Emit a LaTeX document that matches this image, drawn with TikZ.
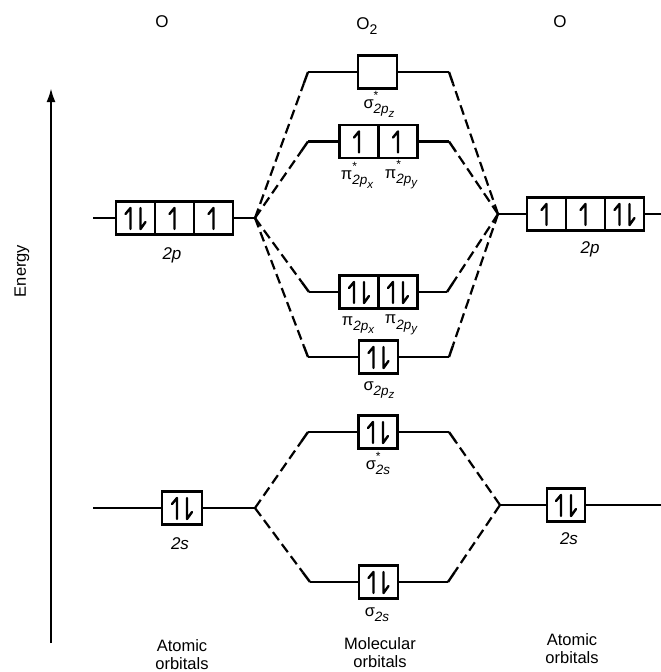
\documentclass[tikz,border=0pt]{standalone}
\usepackage{fontspec}
\setmainfont{Liberation Sans}
\usetikzlibrary{calc,arrows.meta}
\newcommand{\mol}[4]{#1\makebox[0pt][l]{\raisebox{1.05ex}{\fontsize{12}{12}\selectfont #2}}\raisebox{-0.6ex}{\fontsize{13.5}{14}\selectfont\itshape 2#3\raisebox{-0.5ex}{\fontsize{11.5}{12}\selectfont #4}}}
\tikzset{
  cell/.style={draw, line width=2.5pt, minimum width=39pt, minimum height=33pt, inner sep=0pt, outer sep=0pt},
  lvl/.style={line width=2.4pt},
  dsh/.style={line width=2.2pt, dash pattern=on 10pt off 5pt},
  el/.style={line width=2.4pt, line cap=round, line join=round},
  lab/.style={font=\fontsize{16.5}{18}\selectfont, inner sep=0pt},
  orb/.style={font=\fontsize{17}{19}\selectfont\itshape, inner sep=0pt},
  ttl/.style={font=\fontsize{17}{19}\selectfont, inner sep=0pt},
  pics/up/.style={code={\draw[el] (0,11) -- (0,-10) -- (-5,-4);}},
  pics/pair/.style={code={\draw[el] (-5,11) -- (-5,-10) -- (-10,-4);
                          \draw[el] (5,-10) -- (5,11) -- (10,4);}},
}
\newcommand{\link}[2]{\draw[lvl] (#1) -- ($(#1)!12pt!(#2)$);
  \draw[dsh] (#2) -- ($(#1)!12pt!(#2)$);}
\begin{document}
\begin{tikzpicture}[x=1pt,y=-1pt]
\useasboundingbox (0,0) rectangle (661,672);

% titles
\node[ttl] (tO1) at (162,22) {O};
\node[ttl] (tO2) at (367,26) {O\raisebox{-0.55ex}{\fontsize{14}{14}\selectfont 2}};
\node[ttl] (tO3) at (560,22) {O};

% energy axis
\coordinate (axB) at (51,643);
\coordinate (axT) at (51,88);
\draw[line width=2.4pt, -{Latex[length=14pt,width=9pt]}] (axB) -- (axT);
\node[lab, rotate=90] (en) at (22,271) {Energy};

% junctions
\coordinate (jpL) at (255,218);
\coordinate (jpR) at (498,214);
\coordinate (jsL) at (255,508);
\coordinate (jsR) at (500,505);

% left 2p
\node[cell] (pL1) at (135.5,218) {};
\node[cell] (pL2) at (174.5,218) {};
\node[cell] (pL3) at (213.5,218) {};
\pic at (pL1) {pair}; \pic at (pL2) {up}; \pic at (pL3) {up};
\coordinate (pL0) at (93,218);
\draw[lvl] (pL0) -- (pL1.west);
\draw[lvl] (pL3.east) -- (jpL);
\node[orb] (pLt) at (172,255) {2p};

% right 2p
\node[cell] (pR1) at (546.5,214) {};
\node[cell] (pR2) at (585.5,214) {};
\node[cell] (pR3) at (624.5,214) {};
\pic at (pR1) {up}; \pic at (pR2) {up}; \pic at (pR3) {pair};
\coordinate (pR0) at (661,214);
\draw[lvl] (jpR) -- (pR1.west);
\draw[lvl] (pR3.east) -- (pR0);
\node[orb] (pRt) at (590,249) {2p};

% left 2s
\node[cell, minimum width=40pt] (sL) at (182,508) {};
\pic at (sL) {pair};
\coordinate (sL0) at (93,508);
\draw[lvl] (sL0) -- (sL.west);
\draw[lvl] (sL.east) -- (jsL);
\node[orb] (sLt) at (180,544) {2s};

% right 2s
\node[cell, minimum width=38pt] (sR) at (566,505) {};
\pic at (sR) {pair};
\coordinate (sR0) at (661,505);
\draw[lvl] (jsR) -- (sR.west);
\draw[lvl] (sR.east) -- (sR0);
\node[orb] (sRt) at (569,539) {2s};

% sigma* 2pz
\node[cell] (a1) at (377.5,72) {};
\coordinate (a1L) at (308,72); \coordinate (a1R) at (449,72);
\draw[lvl] (a1L) -- (a1.west); \draw[lvl] (a1.east) -- (a1R);
\node[lab] (a1t) at (379,104) {\mol{σ}{*}{p}{z}};

% pi* 2p
\node[cell] (b1) at (359,141.5) {};
\node[cell] (b2) at (398,141.5) {};
\pic at (b1) {up}; \pic at (b2) {up};
\coordinate (bL) at (308,141.5); \coordinate (bR) at (449,141.5);
\draw[lvl] (bL) -- (b1.west); \draw[lvl] (b2.east) -- (bR);
\node[lab] (b1t) at (357,175) {\mol{π}{*}{p}{x}};
\node[lab] (b2t) at (401,175) {\mol{π}{*}{p}{y}};

% pi 2p
\node[cell] (c1) at (359,292) {};
\node[cell] (c2) at (398,292) {};
\pic at (c1) {pair}; \pic at (c2) {pair};
\coordinate (cL) at (309,292); \coordinate (cR) at (447,292);
\draw[lvl] (cL) -- (c1.west); \draw[lvl] (c2.east) -- (cR);
\node[lab] (c1t) at (358,325) {\mol{π}{}{p}{x}};
\node[lab] (c2t) at (401,325) {\mol{π}{}{p}{y}};

% sigma 2pz
\node[cell] (d1) at (378.5,357) {};
\pic at (d1) {pair};
\coordinate (dL) at (308,357); \coordinate (dR) at (449,357);
\draw[lvl] (dL) -- (d1.west); \draw[lvl] (d1.east) -- (dR);
\node[lab] (d1t) at (379,390) {\mol{σ}{}{p}{z}};

% sigma* 2s
\node[cell] (e1) at (378,432) {};
\pic at (e1) {pair};
\coordinate (eL) at (308,432); \coordinate (eR) at (449,432);
\draw[lvl] (eL) -- (e1.west); \draw[lvl] (e1.east) -- (eR);
\node[lab] (e1t) at (378,465) {\mol{σ}{*}{s}{}};

% sigma 2s
\node[cell] (f1) at (378.5,582) {};
\pic at (f1) {pair};
\coordinate (fL) at (310,582); \coordinate (fR) at (448,582);
\draw[lvl] (fL) -- (f1.west); \draw[lvl] (f1.east) -- (fR);
\node[lab] (f1t) at (377,616) {\mol{σ}{}{s}{}};

% correlation lines
\link{a1L}{jpL} \link{bL}{jpL} \link{cL}{jpL} \link{dL}{jpL}
\link{a1R}{jpR} \link{bR}{jpR} \link{cR}{jpR} \link{dR}{jpR}
\link{eL}{jsL} \link{fL}{jsL}
\link{eR}{jsR} \link{fR}{jsR}

% bottom captions
\node[lab, align=center] (capL) at (182,655) {Atomic\\orbitals};
\node[lab, align=center] (capM) at (380,653) {Molecular\\orbitals};
\node[lab, align=center] (capR) at (572,649) {Atomic\\orbitals};
\end{tikzpicture}
\end{document}
